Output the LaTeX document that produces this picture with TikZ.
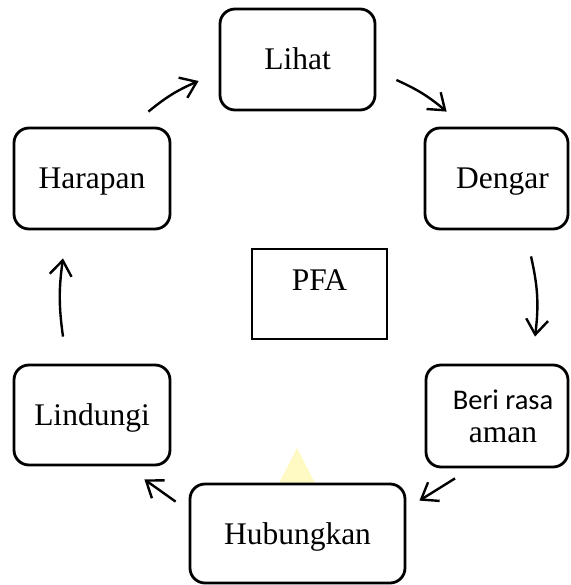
\documentclass[tikz,border=0pt]{standalone}
\usepackage{fontspec}
\setmainfont{Liberation Serif}
\newfontfamily\calibrifont{Carlito}
\usetikzlibrary{arrows.meta}
\definecolor{watermark}{RGB}{255,250,195}
\begin{document}
\begin{tikzpicture}[x=1pt,y=-1pt,
  cyclebox/.style={draw, line width=2.8pt, rounded corners=15pt, fill=white,
    inner sep=0pt, align=center, font=\fontsize{31.5}{33}\selectfont},
  oneline/.style={text height=21pt, text depth=0pt},
  plainbox/.style={draw, line width=1.3pt, inner sep=0pt},
  labeltext/.style={font=\fontsize{31.5}{33}\selectfont, inner sep=0pt},
  flow/.style={line width=2.4pt, -{Straight Barb[length=15pt,width=22pt]}}]
\useasboundingbox (0,0) rectangle (570,585);
% faint watermark triangle behind the bottom box
\fill[watermark] (297,448) -- (334,520) -- (260,520) -- cycle;
% cycle boxes
\node[cyclebox, oneline, minimum width=155pt, minimum height=101pt] (lihat) at (297.5,59.5) {Lihat};
\node[cyclebox, oneline, minimum width=143pt, minimum height=101pt] (dengar) at (496.5,178.5) {\hspace*{12pt}Dengar};
\node[cyclebox, oneline, minimum width=156pt, minimum height=101pt] (harapan) at (92,178.5) {Harapan};
\node[cyclebox, oneline, minimum width=156pt, minimum height=100pt] (lindungi) at (92,415) {Lindungi};
\node[cyclebox, oneline, minimum width=215pt, minimum height=99pt] (hub) at (297.5,533.5) {Hubungkan};
\node[cyclebox, minimum width=142pt, minimum height=102pt] (beri) at (497,416)
  {\hspace*{12pt}{\calibrifont\fontsize{28.5}{33}\selectfont Beri rasa}\\\hspace*{12pt}{\rmfamily aman}};
% centre box
\node[plainbox, minimum width=135pt, minimum height=90pt] (pfa) at (319.5,294) {};
\node[labeltext] (pfatext) at (319.5,280) {PFA};
% connectors
\draw[flow] ([shift={(-23,-15)}]harapan.north east) to[bend left=8] ([shift={(-20,21.5)}]lihat.west);
\draw[flow] ([shift={(20,20.5)}]lihat.east) to[bend left=8] ([shift={(23,-15)}]dengar.north west);
\draw[flow] ([shift={(34.5,26)}]dengar.south) to[bend left=10] ([shift={(38,-27)}]beri.north);
\draw[flow] ([shift={(-42,10)}]beri.south) -- ([shift={(13,18)}]hub.north east);
\draw[flow] ([shift={(-13,19)}]hub.north west) -- ([shift={(-27,13)}]lindungi.south east);
\draw[flow] ([shift={(-29,-27)}]lindungi.north) to[bend left=8] ([shift={(-29,28)}]harapan.south);
\end{tikzpicture}
\end{document}
